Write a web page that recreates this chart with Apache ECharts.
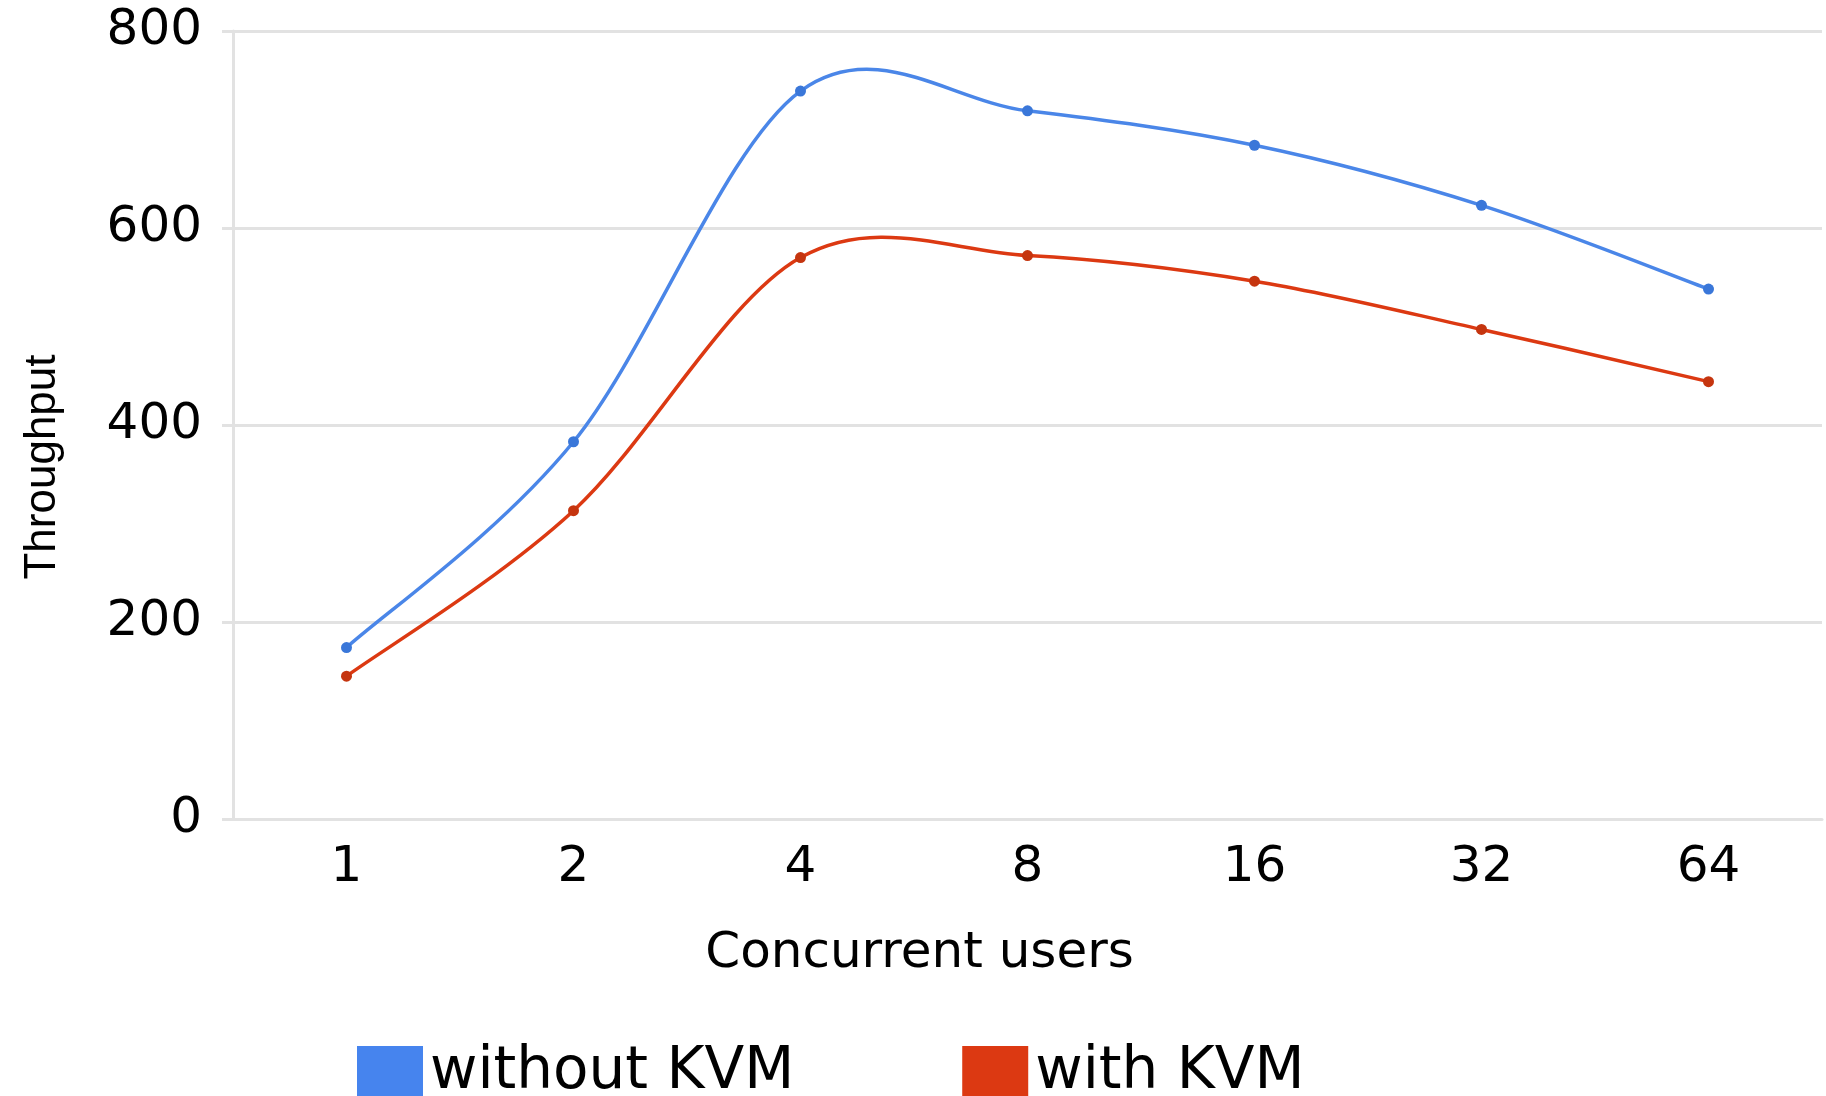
<!DOCTYPE html>
<html>
<head>
<meta charset="utf-8">
<title>Throughput vs concurrent users</title>
<script src="https://cdn.jsdelivr.net/npm/echarts@6/dist/echarts.min.js"></script>
<style>
  html, body { margin: 0; padding: 0; background: #fff; }
  #chart { width: 1826px; height: 1096px; }
</style>
</head>
<body>
<div id="chart"></div>
<script>
// data
const users = ["1", "2", "4", "8", "16", "32", "64"]
const withoutKvm = [174, 383, 739, 719, 684, 623, 538]
const withKvm = [145, 313, 570, 572, 546, 497, 444]
const yTicks = [0, 200, 400, 600, 800]

const gridGray = "#e2e2e2"
const font = "DejaVu Sans"

const chart = echarts.init(document.getElementById("chart"), null, { renderer: "canvas" })

// catmull-rom curve through the points, like the original chart tool draws it
// (echarts' own smoothing flattens local peaks, the reference overshoots them)
const curveSeries = (name, values, color) => ({
  name: name,
  type: "custom",
  coordinateSystem: "cartesian2d",
  silent: true,
  z: 1,
  data: [[0, values[0]]],
  renderItem: (params, api) => {
    const pts = values.map((v, i) => api.coord([i, v]))
    const at = (i) => pts[Math.max(0, Math.min(pts.length - 1, i))]
    let d = "M" + pts[0][0] + "," + pts[0][1]
    for (let i = 0; i < pts.length - 1; i++) {
      const p0 = at(i - 1), p1 = at(i), p2 = at(i + 1), p3 = at(i + 2)
      const c1x = p1[0] + (p2[0] - p0[0]) / 6
      const c1y = p1[1] + (p2[1] - p0[1]) / 6
      const c2x = p2[0] - (p3[0] - p1[0]) / 6
      const c2y = p2[1] - (p3[1] - p1[1]) / 6
      d += " C" + c1x + "," + c1y + " " + c2x + "," + c2y + " " + p2[0] + "," + p2[1]
    }
    return {
      type: "path",
      shape: { pathData: d },
      style: { fill: "none", stroke: color, lineWidth: 3.5 },
    }
  },
})

const dotSeries = (name, values, color) => ({
  name: name,
  type: "line",
  data: values,
  symbol: "circle",
  symbolSize: 11,
  z: 3,
  itemStyle: { color: color },
  lineStyle: { opacity: 0 },
})

const option = {
  backgroundColor: "#fff",
  animation: false,
  grid: {
    left: 233,
    right: 4,
    top: 31,
    bottom: 277,
  },
  legend: {
    left: 357,
    top: 1041,
    padding: 0,
    icon: "rect",
    itemWidth: 66,
    itemHeight: 54,
    itemGap: 168,
    textStyle: {
      fontFamily: font,
      fontSize: 58,
      color: "#000",
      lineHeight: 54,
      padding: [10, 0, 0, 2],
    },
    data: [
      { name: "without KVM", itemStyle: { color: "#4684ee" } },
      { name: "with KVM", itemStyle: { color: "#dc3912" } },
    ],
  },
  xAxis: {
    type: "category",
    data: users,
    name: "Concurrent users",
    nameLocation: "middle",
    nameGap: 110,
    nameTextStyle: {
      fontFamily: font,
      fontSize: 50,
      color: "#000",
      padding: [0, 216, 0, 0],
    },
    axisLine: { lineStyle: { color: gridGray, width: 3 } },
    axisTick: { length: 8, lineStyle: { color: gridGray, width: 2 } },
    axisLabel: {
      fontFamily: font,
      fontSize: 50,
      color: "#000",
      margin: 24,
    },
  },
  yAxis: {
    type: "value",
    min: yTicks[0],
    max: yTicks[yTicks.length - 1],
    interval: 200,
    name: "Throughput",
    nameLocation: "middle",
    nameGap: 168,
    nameRotate: 90,
    nameTextStyle: {
      fontFamily: "Liberation Sans",
      fontSize: 44,
      color: "#000",
      padding: [0, 84, 0, 0],
    },
    axisLine: { show: true, lineStyle: { color: gridGray, width: 3 } },
    axisTick: { show: true, length: 11, lineStyle: { color: gridGray, width: 3 } },
    axisLabel: {
      fontFamily: font,
      fontSize: 50,
      color: "#000",
      margin: 31,
    },
    splitLine: { lineStyle: { color: gridGray, width: 3 } },
  },
  series: [
    curveSeries("without KVM", withoutKvm, "#4a86e8"),
    curveSeries("with KVM", withKvm, "#dc3912"),
    dotSeries("without KVM", withoutKvm, "#3a77d9"),
    dotSeries("with KVM", withKvm, "#c5350f"),
  ],
}

chart.setOption(option)
</script>
</body>
</html>
